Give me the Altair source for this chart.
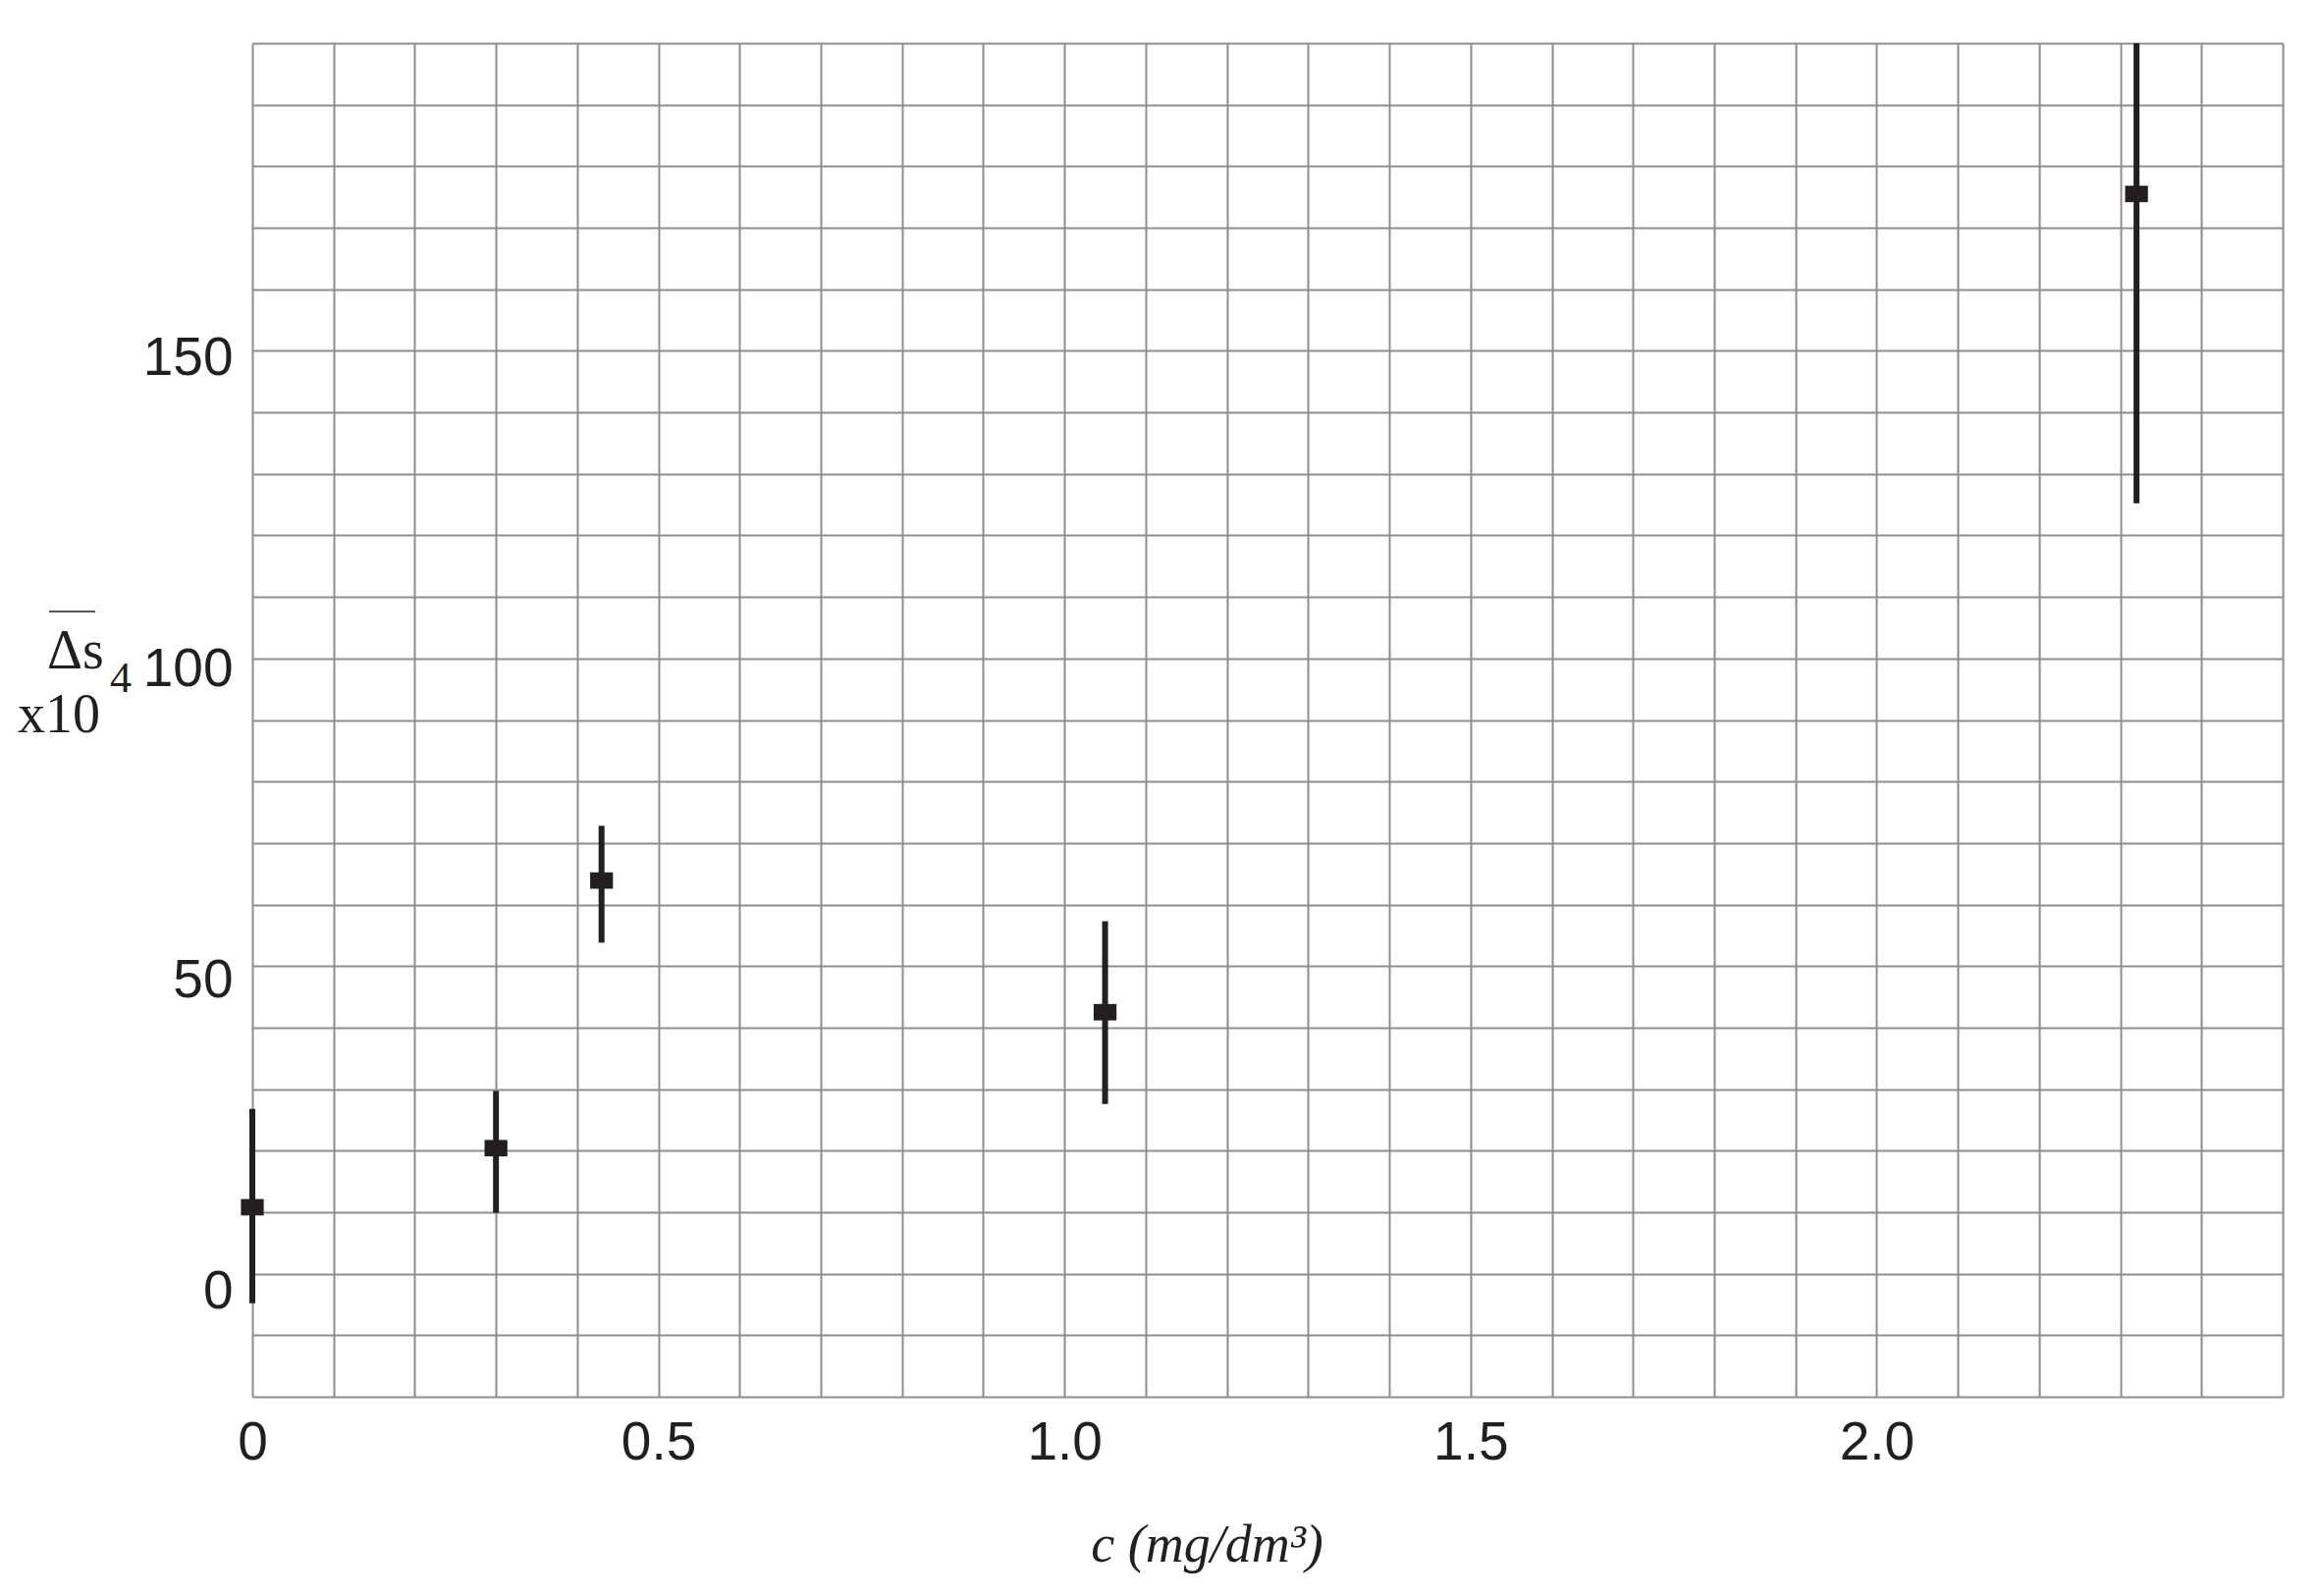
import altair as alt
import pandas as pd

# Data
conc = [0.0, 0.30, 0.43, 1.05, 2.32]          # c (mg/dm^3)
ds_mean = [10.8, 20.4, 63.9, 42.5, 175.5]      # mean Δs x10^4
ds_low = [-4.8, 9.9, 53.8, 27.6, 125.2]        # lower end of error bar
ds_high = [26.8, 29.7, 72.8, 57.3, 225.8]      # upper end of error bar (last one runs off the top)

x_grid = [round(i * 0.1, 1) for i in range(26)]   # grid every 0.1
y_grid = list(range(-20, 201, 10))                # grid every 10
x_labels = [0, 0.5, 1.0, 1.5, 2.0]
y_labels = [0, 50, 100, 150]

df = pd.DataFrame({"c": conc, "m": ds_mean, "lo": ds_low, "hi": ds_high})

INK = "#231f20"
GRID = "#8e8e8e"
Y_TOP = 200

x_label_expr = (
    "indexof([" + ",".join(str(v) for v in x_labels) + "], datum.value) >= 0 ? "
    "(datum.value == 0 ? '0' : format(datum.value, '.1f')) : ''"
)
y_label_expr = (
    "indexof([" + ",".join(str(v) for v in y_labels) + "], datum.value) >= 0 ? "
    "format(datum.value, 'd') : ''"
)

xscale = alt.Scale(domain=[0, 2.5], nice=False, zero=False)
yscale = alt.Scale(domain=[-20, Y_TOP], nice=False, zero=False)

xaxis = alt.Axis(
    values=x_grid, labelExpr=x_label_expr, grid=True, gridColor=GRID, gridWidth=2,
    ticks=False, tickSize=0, domain=False, labelFont="Liberation Sans", labelFontSize=55,
    labelColor=INK, labelPadding=20, labelFlush=False, labelOverlap=False,
    title="c (mg/dm³)", titleFont="Liberation Serif", titleFontStyle="italic",
    titleFontWeight="normal", titleFontSize=54, titleColor=INK,
    titleX=972, titleY=167, titleBaseline="alphabetic", titleAnchor="start", titleAlign="center",
)
yaxis = alt.Axis(
    values=y_grid, labelExpr=y_label_expr, grid=True, gridColor=GRID, gridWidth=2,
    ticks=False, tickSize=0, domain=False, labelFont="Liberation Sans", labelFontSize=55,
    labelColor=INK, labelPadding=20, labelOffset=alt.ExprRef("18 - datum.value * 0.07"),
    labelFlush=False, labelOverlap=False,
    title=None,
)

base = alt.Chart(df)

bars = base.transform_calculate(
    hi_vis=f"min(datum.hi, {Y_TOP})"
).mark_rule(color=INK, strokeWidth=6).encode(
    x=alt.X("c:Q", scale=xscale, axis=xaxis),
    y=alt.Y("lo:Q", scale=yscale, axis=yaxis),
    y2="hi_vis:Q",
)

points = base.mark_point(
    shape="M-1,-0.72L1,-0.72L1,0.72L-1,0.72Z", size=540, filled=True,
    color=INK, opacity=1, strokeWidth=0,
).encode(
    x=alt.X("c:Q", scale=xscale),
    y=alt.Y("m:Q", scale=yscale),
)

# y-axis title pieces: overlined Δs, x10 and superscript 4
one = alt.Chart(pd.DataFrame({"t": [0]}))
t_ds = one.mark_text(text="Δs", font="Liberation Serif", fontSize=56, color=INK,
                     align="center", baseline="middle").encode(
    x=alt.value(-180), y=alt.value(620))
bar_over = one.mark_rule(color=INK, strokeWidth=1.5).encode(
    x=alt.value(-207), x2=alt.value(-160), y=alt.value(579))
t_x10 = one.mark_text(text="x10", font="Liberation Serif", fontSize=56, color=INK,
                      align="center", baseline="middle").encode(
    x=alt.value(-197), y=alt.value(685))
t_4 = one.mark_text(text="4", font="Liberation Serif", fontSize=44, color=INK,
                    align="center", baseline="middle").encode(
    x=alt.value(-134), y=alt.value(648))

chart = alt.layer(bars, points, t_ds, bar_over, t_x10, t_4).properties(
    width=2068, height=1379,
    autosize=alt.AutoSizeParams(type="none"),
    padding={"left": 249, "top": 36, "right": 20, "bottom": 200},
).configure_view(
    stroke=GRID, strokeWidth=2
).configure(background="white")

chart.save("out.html", embed_options={"renderer": "svg", "actions": False})
